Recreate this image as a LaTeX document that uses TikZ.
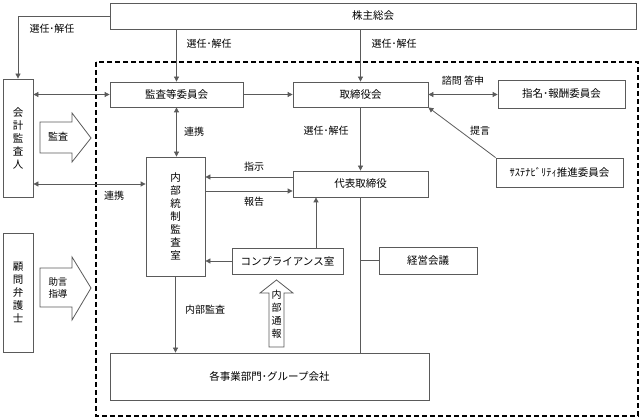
\documentclass[tikz,border=0pt]{standalone}
\usepackage{fontspec}
\setmainfont{Noto Sans CJK JP}
\usetikzlibrary{arrows.meta}
\definecolor{linegray}{HTML}{5A5A5A}
\begin{document}
\begin{tikzpicture}[x=1pt,y=-1pt,
  box/.style={draw=linegray, line width=0.8pt, inner sep=0pt, align=center,
    font=\fontsize{10.5}{13}\selectfont},
  conn/.style={draw=linegray, line width=0.8pt},
  arr/.style={conn, -{Triangle[length=5pt,width=5pt]}},
  darr/.style={conn, {Triangle[length=5pt,width=5pt]}-{Triangle[length=5pt,width=5pt]}},
  lbl/.style={font=\fontsize{10}{12}\selectfont, inner sep=1pt},
  vlbl/.style={font=\fontsize{10}{13}\selectfont, inner sep=0pt, align=center},
  blockarrow/.style={draw=linegray, line width=0.8pt, fill=white, line join=miter},
  dashframe/.style={draw=black, line width=1.4pt, dash pattern=on 5pt off 3pt}]
\useasboundingbox (0,0) rectangle (643,419);

% dashed frame
\draw[dashframe] (96,62) rectangle (638,416);

% boxes
\node[box, minimum width=526pt, minimum height=26pt] (agm) at (373,16) {株主総会};
\node[box, minimum width=133pt, minimum height=25pt] (kansa) at (176.5,94.5) {監査等委員会};
\node[box, minimum width=135pt, minimum height=25pt] (board) at (360.5,94.5) {取締役会};
\node[box, minimum width=127pt, minimum height=28pt] (nomin) at (561.5,94) {指名･報酬委員会};
\node[box, minimum width=30pt, minimum height=118pt] (auditor) at (18,138) {会\\計\\監\\査\\人};
\node[box, minimum width=59pt, minimum height=119pt] (internal) at (175.5,216.5) {内\\部\\統\\制\\監\\査\\室};
\node[box, minimum width=135pt, minimum height=26pt] (ceo) at (360.5,184) {代表取締役};
\node[box, minimum width=127pt, minimum height=29pt] (sustain) at (559.5,172.5) {ｻｽﾃﾅﾋﾞﾘﾃｨ推進委員会};
\node[box, minimum width=111pt, minimum height=26pt] (compl) at (287.5,261) {コンプライアンス室};
\node[box, minimum width=98pt, minimum height=27pt] (mgmt) at (428,260.5) {経営会議};
\node[box, minimum width=30pt, minimum height=119pt] (lawyer) at (18,292.5) {顧\\問\\弁\\護\\士};
\node[box, minimum width=319pt, minimum height=47pt] (div) at (269.5,376.5) {各事業部門･グループ会社};

% block arrows
\draw[blockarrow] (40,122) -- (72,122) -- (72,113) -- (91,138) -- (72,162) -- (72,153) -- (40,153) -- cycle;
\node[lbl] (lkansa) at (58,137) {監査};
\draw[blockarrow] (40,268) -- (72,268) -- (72,257) -- (91,288) -- (72,320) -- (72,307) -- (40,307) -- cycle;
\node[vlbl, font=\fontsize{9.5}{12}\selectfont] (ladvice) at (58,288) {助言\\指導};
\draw[blockarrow] (269,347) -- (269,293) -- (260,293) -- (276.5,280) -- (293,293) -- (284,293) -- (284,347) -- cycle;
\node[vlbl] (lwhistle) at (276.5,314) {内\\部\\通\\報};

% connectors
\draw[arr] (agm.west) -| (auditor.north);
\draw[arr] (agm.south -| kansa.north) -- (kansa.north);
\draw[arr] (agm.south -| board.north) -- (board.north);
\draw[arr] (kansa.east) -- (board.west);
\draw[darr] (board.east) -- (nomin.west |- board.east);
\draw[darr] (auditor.east |- kansa.west) -- (kansa.west);
\draw[darr] (kansa.south) -- (kansa.south |- internal.north);
\draw[darr] (auditor.east |- ceo.west) -- (internal.west |- ceo.west);
\draw[arr] (board.south) -- (ceo.north);
\draw[arr] ([yshift=7pt]ceo.west) -- ([yshift=7pt]ceo.west -| internal.east);
\draw[arr] ([yshift=-7pt]ceo.west -| internal.east) -- ([yshift=-7pt]ceo.west);
\draw[arr] (compl.west) -- (compl.west -| internal.east);
\draw[arr] ([xshift=28.5pt]compl.north) -- ([xshift=28.5pt]compl.north |- ceo.south);
\draw[conn] (ceo.south) -- (ceo.south |- div.north);
\draw[conn] (mgmt.west) -- (mgmt.west -| ceo.south);
\draw[arr] (sustain.north west) -- (board.south east);
\draw[arr] (internal.south) -- (internal.south |- div.north);

% labels
\node[lbl] (l1) at (52,29) {選任･解任};
\node[lbl] (l2) at (209,44) {選任･解任};
\node[lbl] (l3) at (394,44) {選任･解任};
\node[lbl] (l4) at (463,81) {諮問 答申};
\node[lbl] (l5) at (480,131) {提言};
\node[lbl] (l6) at (194,132) {連携};
\node[lbl] (l7) at (326,131) {選任･解任};
\node[lbl] (l8) at (114,196) {連携};
\node[lbl] (l9) at (254,167) {指示};
\node[lbl] (l10) at (254,202) {報告};
\node[lbl] (l11) at (205,310) {内部監査};
\end{tikzpicture}
\end{document}
